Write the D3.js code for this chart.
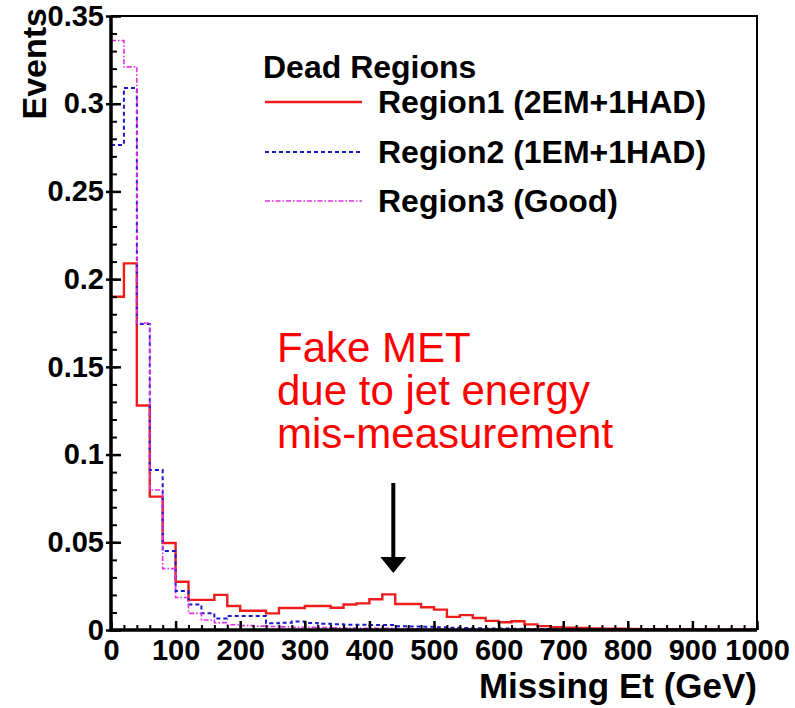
<!DOCTYPE html>
<html>
<head>
<meta charset="utf-8">
<script src="https://cdn.jsdelivr.net/npm/d3@7"></script>
<style>
  body { margin: 0; background: #fff; }
  svg text { font-family: "Liberation Sans", Arial, Helvetica, sans-serif; }
</style>
</head>
<body>
<svg id="chart" width="795" height="708"></svg>
<script>
// 50 bins of 20 GeV, normalised counts
const binWidth = 20
const region1 = [0.190, 0.209, 0.128, 0.076, 0.0496, 0.0275, 0.0172, 0.0172, 0.0200, 0.0137,
    0.0110, 0.0110, 0.0095, 0.0125, 0.0125, 0.0137, 0.0137, 0.0127, 0.0145, 0.0152,
    0.0175, 0.0203, 0.0148, 0.0148, 0.0130, 0.0116, 0.0075, 0.0085, 0.0068, 0.0052,
    0.0044, 0.0050, 0.0032, 0.0022, 0.0016, 0.0013, 0.0011, 0.0009, 0.0008, 0.0007,
    0.0006, 0.0005, 0.0005, 0.0004, 0.0004, 0.0003, 0.0003, 0.0002, 0.0002, 0.0002]
const region2 = [0.2765, 0.309, 0.1744, 0.0912, 0.0450, 0.0222, 0.0145, 0.0095, 0.0065, 0.0080,
    0.0080, 0.0080, 0.0038, 0.0042, 0.0048, 0.0040, 0.0035, 0.0033, 0.0030, 0.0030,
    0.0028, 0.0028, 0.0022, 0.0020, 0.0018, 0.0015, 0.0013, 0.0012, 0.0010, 0.0009,
    0.0008, 0.0007, 0.0006, 0.0006, 0.0005, 0.0004, 0.0004, 0.0003, 0.0003, 0.0003,
    0.0002, 0.0002, 0.0002, 0.0002, 0.0001, 0.0001, 0.0001, 0.0001, 0.0001, 0.0001]
const region3 = [0.336, 0.321, 0.175, 0.0798, 0.0350, 0.0185, 0.0095, 0.0057, 0.0042, 0.0030,
    0.0025, 0.0022, 0.0020, 0.0018, 0.0016, 0.0015, 0.0014, 0.0012, 0.0011, 0.0010,
    0.0010, 0.0009, 0.0008, 0.0007, 0.0006, 0.0006, 0.0005, 0.0005, 0.0004, 0.0004,
    0.0003, 0.0003, 0.0003, 0.0002, 0.0002, 0.0002, 0.0002, 0.0001, 0.0001, 0.0001,
    0.0001, 0.0001, 0.0001, 0.0001, 0.0001, 0.0001, 0.0001, 0.0001, 0.0001, 0.0001]

const seriesNames = ['Region1 (2EM+1HAD)', 'Region2 (1EM+1HAD)', 'Region3 (Good)']
const xTicks = [0, 100, 200, 300, 400, 500, 600, 700, 800, 900, 1000]
const xTickLabels = ['0', '100', '200', '300', '400', '500', '600', '700', '800', '900', '1000']
const yTicks = [0, 0.05, 0.1, 0.15, 0.2, 0.25, 0.3, 0.35]
const yTickLabels = ['0', '0.05', '0.1', '0.15', '0.2', '0.25', '0.3', '0.35']

// arrow pointing at the fake MET bump (GeV, events)
const arrowX = 437
const arrowFrom = 0.0838
const arrowTo = 0.0325

const svg = d3.select('#chart')

const x = d3.scaleLinear().domain([0, 1000]).range([111, 757])
const y = d3.scaleLinear().domain([0, 0.35]).range([630, 16])

const styles = [
    { color: '#ee1c1c', width: 2.4, dash: null },
    { color: '#1a1acc', width: 2, dash: '4,3' },
    { color: '#e030e0', width: 1.6, dash: '5,2,1.5,2' }
]

svg.append('clipPath').attr('id', 'plot')
    .append('rect')
    .attr('x', x(0)).attr('y', y(0.35))
    .attr('width', x(1000) - x(0)).attr('height', y(0) - y(0.35))

const step = d3.line()
    .x(d => x(d[0]))
    .y(d => y(d[1]))
    .curve(d3.curveStepAfter)

const hist = vals => {
    const pts = vals.map((v, i) => [i * binWidth, v])
    pts.push([vals.length * binWidth, vals[vals.length - 1]])
    return pts
}

const g = svg.append('g').attr('clip-path', 'url(#plot)')
;[region1, region2, region3].forEach((vals, i) => {
    g.append('path')
        .attr('d', step(hist(vals)))
        .attr('fill', 'none')
        .attr('stroke', styles[i].color)
        .attr('stroke-width', styles[i].width)
        .attr('stroke-dasharray', styles[i].dash)
})

// frame
svg.append('path')
    .attr('d', `M${x(0)},${y(0.35)}H${x(1000)}V${y(0)}`)
    .attr('fill', 'none')
    .attr('stroke', '#000')
    .attr('stroke-width', 2)

const labelStyle = a => a.selectAll('text')
    .attr('font-size', 29).attr('font-weight', 'bold').attr('fill', '#000')
    .style('font-family', '"Liberation Sans", Arial, sans-serif')

// y axis
const yMinor = d3.range(0, 0.3501, 0.01)
svg.append('g')
    .attr('transform', `translate(${x(0)},0)`)
    .call(d3.axisLeft(y).tickValues(yMinor).tickSizeInner(-6).tickSizeOuter(0).tickFormat(''))
    .call(a => a.select('.domain').remove())
    .selectAll('line').attr('stroke-width', 2)

svg.append('g')
    .attr('transform', `translate(${x(0)},0)`)
    .call(d3.axisLeft(y).tickValues(yTicks).tickSizeInner(-10).tickSizeOuter(0)
        .tickPadding(7).tickFormat((d, i) => yTickLabels[i]))
    .call(a => a.select('.domain').remove())
    .call(a => a.selectAll('line').attr('stroke-width', 2.5).attr('x1', -5))
    .call(labelStyle)

// x axis
const xMinor = d3.range(0, 1001, 20)
svg.append('g')
    .attr('transform', `translate(0,${y(0)})`)
    .call(d3.axisBottom(x).tickValues(xMinor).tickSizeInner(-5).tickSizeOuter(0).tickFormat(''))
    .call(a => a.select('.domain').remove())
    .selectAll('line').attr('stroke-width', 2)

svg.append('g')
    .attr('transform', `translate(0,${y(0)})`)
    .call(d3.axisBottom(x).tickValues(xTicks).tickSizeInner(-9).tickSizeOuter(0).tickPadding(9)
        .tickFormat((d, i) => xTickLabels[i]))
    .call(a => a.select('.domain').remove())
    .call(a => a.selectAll('line').attr('stroke-width', 2.5))
    .call(labelStyle)

// thick left and bottom axis lines
svg.append('path')
    .attr('d', `M${x(0)},${y(0.35)}V${y(0)}H${x(1000)}`)
    .attr('fill', 'none')
    .attr('stroke', '#000')
    .attr('stroke-width', 3.5)

// axis titles
svg.append('text')
    .attr('x', x(1000)).attr('y', 698)
    .attr('text-anchor', 'end')
    .attr('font-size', 35).attr('font-weight', 'bold')
    .text('Missing Et (GeV)')

svg.append('text')
    .attr('transform', 'translate(46,8) rotate(-90)')
    .attr('text-anchor', 'end')
    .attr('font-size', 34).attr('font-weight', 'bold')
    .text('Events')

// legend
svg.append('text')
    .attr('x', 263).attr('y', 78)
    .attr('font-size', 32).attr('font-weight', 'bold')
    .text('Dead Regions')

const legendY = [102, 152, 201]
seriesNames.forEach((name, i) => {
    svg.append('line')
        .attr('x1', 265).attr('x2', 362)
        .attr('y1', legendY[i]).attr('y2', legendY[i])
        .attr('stroke', styles[i].color)
        .attr('stroke-width', styles[i].width)
        .attr('stroke-dasharray', styles[i].dash)
    svg.append('text')
        .attr('x', 378).attr('y', legendY[i] + 11)
        .attr('font-size', 32).attr('font-weight', 'bold')
        .text(name)
})

// annotation
const note = ['Fake MET', 'due to jet energy', 'mis-measurement']
note.forEach((t, i) => {
    svg.append('text')
        .attr('x', 277).attr('y', 362 + i * 43)
        .attr('font-size', 42).attr('fill', '#ff0000')
        .text(t)
})

svg.append('line')
    .attr('x1', x(arrowX)).attr('x2', x(arrowX))
    .attr('y1', y(arrowFrom)).attr('y2', y(arrowTo) - 12)
    .attr('stroke', '#000').attr('stroke-width', 4)

svg.append('path')
    .attr('d', `M${x(arrowX) - 13},${y(arrowTo) - 16}L${x(arrowX) + 13},${y(arrowTo) - 16}L${x(arrowX)},${y(arrowTo)}Z`)
    .attr('fill', '#000')
</script>
</body>
</html>
